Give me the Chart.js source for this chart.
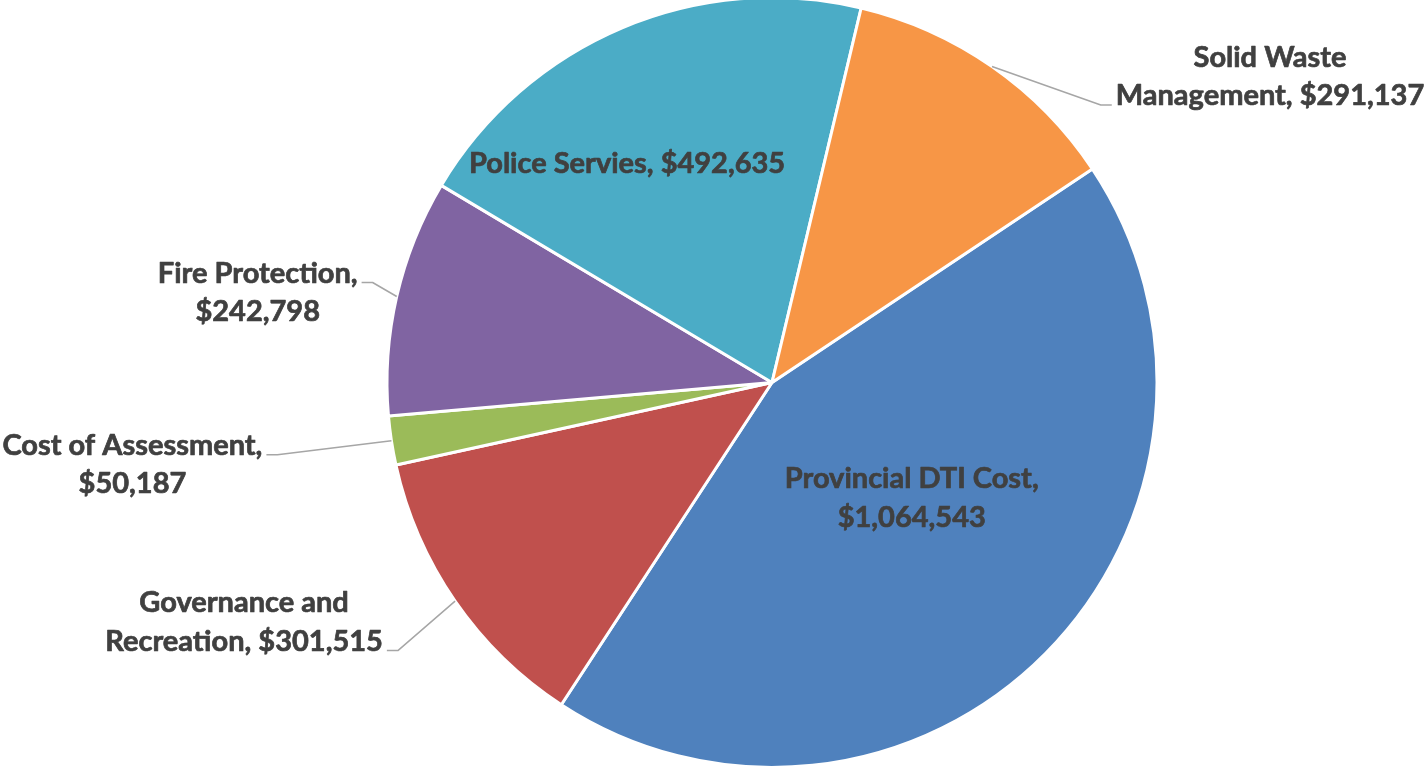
<!DOCTYPE html>
<html>
<head>
<meta charset="utf-8">
<script src="https://cdn.jsdelivr.net/npm/chart.js@4"></script>
<style>
    html, body { margin: 0; padding: 0; background: #ffffff; overflow: hidden; }
    #grafico { display: block; margin-top: -4px; }
</style>
</head>
<body>
<canvas id="grafico" width="1427" height="773"></canvas>
<script>
// Datos del grafico (orden en el sentido del reloj)
const categorias = [
    'Provincial DTI Cost',
    'Governance and Recreation',
    'Cost of Assessment',
    'Fire Protection',
    'Police Servies',
    'Solid Waste Management'
];
const valores = [1064543, 301515, 50187, 242798, 492635, 291137];
const colores = ['#4F81BD', '#C0504D', '#9BBB59', '#8064A2', '#4BACC6', '#F79646'];

// Donde va cada etiqueta: dentro (desde el centro del sector) o fuera (desde el borde)
// corte = cuantas palabras van en la primera linea
const posiciones = [
    { fuera: false, dx: 3, dy: -30, corte: 3 },
    { fuera: true, dx: -211, dy: 11, corte: 2, guia: { linea: 1, lado: 'der' } },
    { fuera: true, dx: -259, dy: 14, corte: 3, guia: { linea: 0, lado: 'der' } },
    { fuera: true, dx: -139, dy: -14, corte: 2, guia: { linea: 0, lado: 'der' } },
    { fuera: false, dx: -70, dy: -32, corte: 0 },
    { fuera: true, dx: 278, dy: 0, corte: 2, guia: { linea: 1, lado: 'izq' } }
];

const formatoDinero = (n) => '$' + n.toLocaleString('en-US');

const etiquetasPlugin = {
    id: 'etiquetas',
    afterDatasetsDraw(chart, args, opts) {
        const ctx = chart.ctx;
        const meta = chart.getDatasetMeta(0);
        ctx.save();
        ctx.font = `bold ${opts.tamano}px ${opts.fuente}`;
        ctx.textAlign = 'center';
        ctx.textBaseline = 'alphabetic';

        meta.data.forEach((arco, i) => {
            const conf = posiciones[i];
            const { x, y, startAngle, endAngle, outerRadius } =
                arco.getProps(['x', 'y', 'startAngle', 'endAngle', 'outerRadius'], true);
            const medio = (startAngle + endAngle) / 2;

            let ancla;
            if (conf.fuera) {
                ancla = { x: x + Math.cos(medio) * outerRadius, y: y + Math.sin(medio) * outerRadius };
            } else {
                ancla = arco.tooltipPosition(true);
            }

            const palabras = `${categorias[i]}, ${formatoDinero(valores[i])}`.split(' ');
            const lineas = conf.corte > 0
                ? [palabras.slice(0, conf.corte).join(' '), palabras.slice(conf.corte).join(' ')]
                : [palabras.join(' ')];

            const cx = ancla.x + conf.dx;
            const base = ancla.y + conf.dy;

            // linea guia
            if (conf.guia) {
                const texto = lineas[conf.guia.linea];
                const ancho = ctx.measureText(texto).width;
                const gy = base + conf.guia.linea * opts.interlineado;
                const signo = conf.guia.lado === 'der' ? 1 : -1;
                const gx = cx + signo * (ancho / 2 + 4);
                ctx.beginPath();
                ctx.strokeStyle = opts.colorGuia;
                ctx.lineWidth = 1.5;
                ctx.moveTo(gx, gy);
                ctx.lineTo(gx + signo * 11, gy);
                ctx.lineTo(ancla.x, ancla.y);
                ctx.stroke();
            }

            // un trazo fino encima para que la letra se vea mas gruesa
            ctx.fillStyle = opts.color;
            ctx.strokeStyle = opts.color;
            ctx.lineWidth = 0.7;
            ctx.lineJoin = 'round';
            lineas.forEach((texto, k) => {
                ctx.fillText(texto, cx, base + k * opts.interlineado);
                ctx.strokeText(texto, cx, base + k * opts.interlineado);
            });
        });
        ctx.restore();
    }
};

const grafico = new Chart(document.getElementById('grafico').getContext('2d'), {
    type: 'pie',
    data: {
        labels: categorias,
        datasets: [{
            data: valores,
            backgroundColor: colores,
            borderColor: '#ffffff',
            borderWidth: 3
        }]
    },
    options: {
        responsive: false,
        animation: false,
        rotation: 56.3,
        layout: { padding: { left: 117, right: 0, top: 0, bottom: 0 } },
        plugins: {
            legend: { display: false },
            tooltip: { enabled: false },
            etiquetas: {
                tamano: 29,
                fuente: 'Lato, "Open Sans", sans-serif',
                color: '#404040',
                colorGuia: '#A6A6A6',
                interlineado: 38.5
            }
        }
    },
    plugins: [etiquetasPlugin]
});
</script>
</body>
</html>
